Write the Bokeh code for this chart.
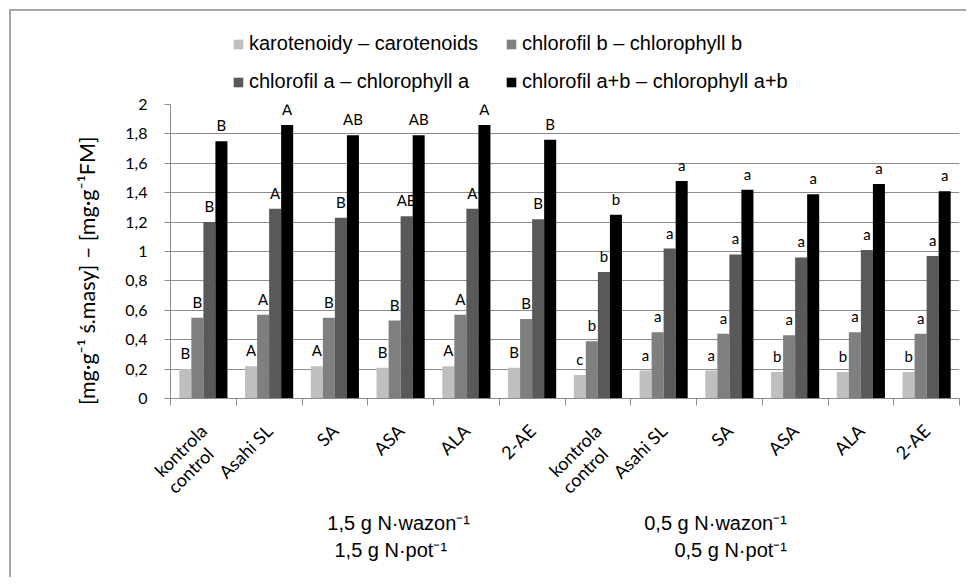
import numpy as np
from bokeh.plotting import figure
from bokeh.layouts import column
from bokeh.models import (ColumnDataSource, Range1d, FixedTicker, LinearAxis,
                          CustomJSTickFormatter, Legend, LegendItem)
from bokeh.transform import dodge
from bokeh.core.properties import value
from bokeh.embed import file_html
from bokeh.resources import INLINE

# ---------------- data ----------------
categories = ["kontrola\ncontrol", "Asahi SL", "SA", "ASA", "ALA", "2-AE",
              "kontrola\ncontrol", "Asahi SL", "SA", "ASA", "ALA", "2-AE"]
carotenoids = [0.20, 0.22, 0.22, 0.21, 0.22, 0.21, 0.16, 0.19, 0.19, 0.18, 0.18, 0.18]
chl_b = [0.55, 0.57, 0.55, 0.53, 0.57, 0.54, 0.39, 0.45, 0.44, 0.43, 0.45, 0.44]
chl_a = [1.20, 1.29, 1.23, 1.24, 1.29, 1.22, 0.86, 1.02, 0.98, 0.96, 1.01, 0.97]
chl_ab = [1.75, 1.86, 1.79, 1.79, 1.86, 1.76, 1.25, 1.48, 1.42, 1.39, 1.46, 1.41]
let_caro = ["B", "A", "A", "B", "A", "B", "c", "a", "a", "b", "b", "b"]
let_b = ["B", "A", "B", "B", "A", "B", "b", "a", "a", "a", "a", "a"]
let_a = ["B", "A", "B", "AB", "A", "B", "b", "a", "a", "a", "a", "a"]
let_ab = ["B", "A", "AB", "AB", "A", "B", "b", "a", "a", "a", "a", "a"]
series_names = ["karotenoidy – carotenoids", "chlorofil b – chlorophyll b",
                "chlorofil a – chlorophyll a", "chlorofil a+b – chlorophyll a+b"]
y_tick_labels = ["0", "0,2", "0,4", "0,6", "0,8", "1", "1,2", "1,4", "1,6", "1,8", "2"]
y_title = "[mg·g⁻¹ ś.masy] – [mg·g⁻¹FM]"
group_line1 = ["1,5 g N·wazon⁻¹", "0,5 g N·wazon⁻¹"]
group_line2 = ["1,5 g N·pot⁻¹", "0,5 g N·pot⁻¹"]
group_pos1 = [3.47, 8.29]
group_pos2 = [3.35, 8.52]

colors = ["#bfbfbf", "#7f7f7f", "#595959", "#000000"]
keys = ["caro", "b", "a", "ab"]
offs = [-1.5, -0.5, 0.5, 1.5]
W = 0.183

xc = np.arange(len(categories)) + 0.5
src = ColumnDataSource(dict(x=xc, caro=carotenoids, b=chl_b, a=chl_a, ab=chl_ab,
                            l_caro=let_caro, l_b=let_b, l_a=let_a, l_ab=let_ab))

# first / second line of each category label (rotated labels are one line each)
cat_line1 = [c.split("\n")[0] for c in categories]
second = [(i, c.split("\n")[1]) for i, c in enumerate(categories) if "\n" in c]
cat_line2 = [s for _, s in second]
cat_line2_pos = [i + 0.60 for i, _ in second]

# ---------------- legend strip ----------------
leg = figure(width=955, height=84, x_range=Range1d(0, 12), y_range=Range1d(0, 2),
             output_backend="svg", toolbar_location=None, min_border=0,
             x_axis_location=None, y_axis_location=None)
leg.grid.visible = False
leg.outline_line_color = None
items = []
for k, c, name in zip(keys, colors, series_names):
    r = leg.vbar(x="x", top=k, width=W, source=src, fill_color=c, line_color=None)
    r.visible = False
    items.append(LegendItem(label=name, renderers=[r]))
lg = Legend(items=items, orientation="horizontal", ncols=2, location=(62, 2),
            margin=0, padding=0, border_line_color=None, background_fill_alpha=0,
            inactive_fill_alpha=0,
            spacing=15, glyph_width=12, glyph_height=12, label_standoff=5,
            label_width=241, label_text_font="Liberation Sans",
            label_text_font_size="20px", label_text_color="black")
leg.add_layout(lg, "center")

# ---------------- main chart ----------------
p = figure(width=955, height=482, x_range=Range1d(0, 12), y_range=Range1d(0, 2),
           output_backend="svg", toolbar_location=None,
           min_border_left=159, min_border_right=7, min_border_top=9, min_border_bottom=179)
p.outline_line_color = None
p.background_fill_color = "white"

for k, c, o in zip(keys, colors, offs):
    p.vbar(x=dodge("x", o * W, range=p.x_range), top=k, width=W, source=src,
           fill_color=c, line_color=None)
    p.text(x=dodge("x", o * W, range=p.x_range), y=k, text="l_" + k, source=src,
           text_align="center", text_baseline="bottom", y_offset=-7,
           text_font=value("Lato"), text_font_size="15px", text_color="black")

p.xgrid.visible = False
p.ygrid.grid_line_color = "#8c8c8c"
p.ygrid.grid_line_width = 1

# y axis
p.yaxis.ticker = FixedTicker(ticks=[i * 0.2 for i in range(11)], minor_ticks=[])
p.yaxis.formatter = CustomJSTickFormatter(args=dict(labels=y_tick_labels),
                                          code="return labels[Math.round(tick*5)];")
p.yaxis.axis_line_color = "#8c8c8c"
p.yaxis.major_tick_line_color = "#8c8c8c"
p.yaxis.major_tick_out = 6
p.yaxis.major_tick_in = 0
p.yaxis.major_label_standoff = 17
p.yaxis.major_label_text_font = "Lato"
p.yaxis.major_label_text_font_size = "16px"
p.yaxis.major_label_text_color = "black"
p.yaxis.axis_label = y_title + "\u00a0" * 7
p.yaxis.axis_label_standoff = 22
p.yaxis.axis_label_text_font = "Lato"
p.yaxis.axis_label_text_font_size = "21.5px"
p.yaxis.axis_label_text_font_style = "normal"
p.yaxis.axis_label_text_color = "black"

# x axis (first line of category labels)
xa = p.xaxis[0]
xa.ticker = FixedTicker(ticks=list(xc), minor_ticks=list(range(13)))
xa.formatter = CustomJSTickFormatter(args=dict(labels=cat_line1),
                                     code="return labels[Math.floor(tick)];")
xa.axis_line_color = "#8c8c8c"
xa.major_tick_line_color = None
xa.major_tick_out = 0
xa.minor_tick_line_color = "#8c8c8c"
xa.minor_tick_out = 7
xa.minor_tick_in = 0
xa.major_label_orientation = np.pi / 4
xa.major_label_standoff = 22
xa.major_label_text_font = "Lato"
xa.major_label_text_font_size = "18px"
xa.major_label_text_color = "black"

# second line of the two-line category labels
xb = LinearAxis(ticker=FixedTicker(ticks=cat_line2_pos, minor_ticks=[]),
                formatter=CustomJSTickFormatter(args=dict(labels=cat_line2),
                                                code="return labels[index];"))
xb.axis_line_color = None
xb.major_tick_line_color = None
xb.major_tick_out = 0
xb.minor_tick_line_color = None
xb.major_label_orientation = np.pi / 4
xb.major_label_standoff = -43
xb.major_label_text_font = "Lato"
xb.major_label_text_font_size = "18px"
xb.major_label_text_color = "black"
p.add_layout(xb, "below")

# group label axes
for pos, lines, sto in ((group_pos1, group_line1, 3), (group_pos2, group_line2, 2)):
    ga = LinearAxis(ticker=FixedTicker(ticks=pos, minor_ticks=[]),
                    formatter=CustomJSTickFormatter(args=dict(labels=lines),
                                                    code="return labels[index];"))
    ga.axis_line_color = None
    ga.major_tick_line_color = None
    ga.major_tick_out = 0
    ga.minor_tick_line_color = None
    ga.major_label_standoff = sto
    ga.major_label_text_font = "Liberation Sans"
    ga.major_label_text_font_size = "20px"
    ga.major_label_text_color = "black"
    p.add_layout(ga, "below")

layout = column(leg, p, spacing=0)
layout.styles = {"border-left": "2px solid #a6a6a6", "border-top": "2px solid #a6a6a6",
                 "margin-left": "9px", "margin-top": "9px"}

open("out.html", "w").write(file_html(layout, INLINE))
